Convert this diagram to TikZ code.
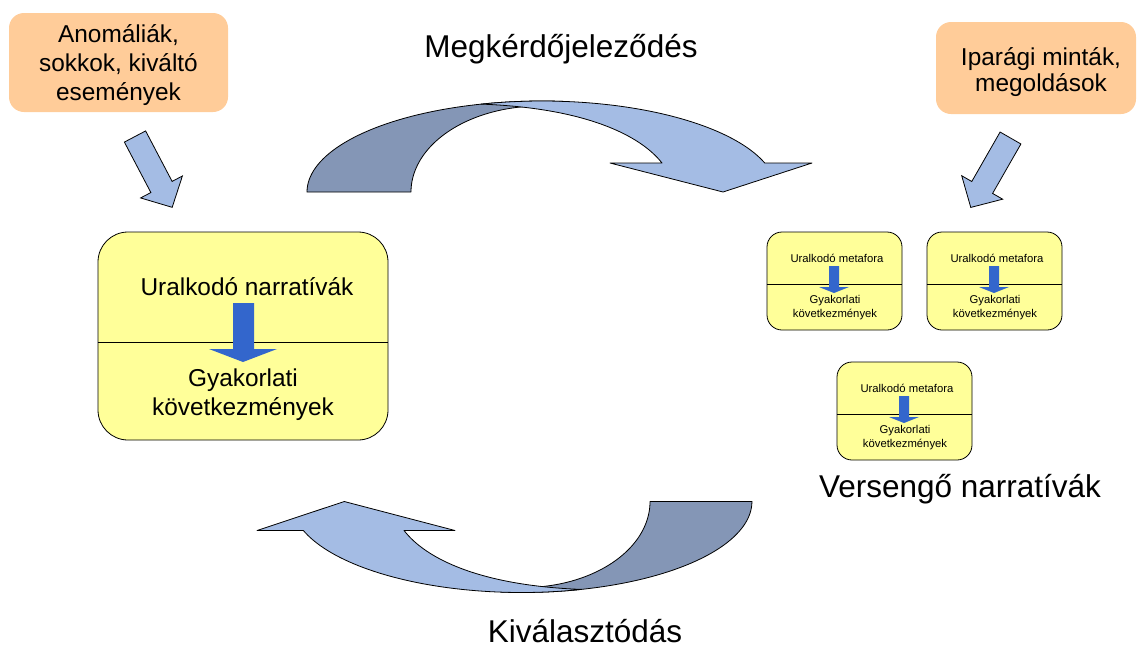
\documentclass[tikz,border=0pt]{standalone}
\usepackage{fontspec}
\setmainfont{Liberation Sans}
\definecolor{peach}{RGB}{255,204,153}
\definecolor{paleyellow}{RGB}{255,255,153}
\definecolor{arrowblue}{RGB}{51,102,204}
\definecolor{lightarrow}{RGB}{164,188,228}
\definecolor{darkarrow}{RGB}{132,150,182}
\newcommand\CurvedPair{%
  \draw[band, fill=darkarrow] (307,192) -- plot[domain=180:85,samples=50] ({542+235*cos(\x)},{192-91*sin(\x)}) -- (540,106) -- plot[domain=90:180,samples=50] ({540+129*cos(\x)},{192-86*sin(\x)}) -- cycle;
  \draw[band, fill=lightarrow] (481,104.1) .. controls (585,108) and (640,135) .. (662,163) -- (610,163) -- (723,192) -- (812,163) -- (765,163) -- plot[domain=18.6:105,samples=50] ({542+235*cos(\x)},{192-91*sin(\x)}) -- cycle;
}
\begin{document}
\begin{tikzpicture}[x=1pt,y=-1pt,
  peachbox/.style={fill=peach, rounded corners=15pt, inner sep=0pt},
  yellowbox/.style={fill=paleyellow, draw=black, line width=0.8pt, inner sep=0pt},
  txt/.style={inner sep=0pt, align=center, font=\fontsize{24.4}{29}\selectfont},
  smalltxt/.style={inner sep=0pt, align=center, font=\fontsize{11.3}{14.5}\selectfont},
  title/.style={inner sep=0pt, anchor=base, font=\fontsize{31.5}{38}\selectfont},
  bluearrow/.style={fill=arrowblue},
  blockarrow/.style={fill=lightarrow, draw=black, line width=0.8pt, line join=miter},
  band/.style={draw=black, line width=0.8pt, line join=round},
  rivalbox/.pic={
    \node[yellowbox, rounded corners=15pt, minimum width=135pt, minimum height=98pt] (box) at (67.5,49) {};
    \draw[line width=0.6pt] (box.west |- 0,52) -- (box.east |- 0,52);
    \node[smalltxt, anchor=base] (head) at (70,30) {Uralkodó metafora};
    \fill[bluearrow] (62,34) -- (72,34) -- (72,55) -- (82,55) -- (67,61) -- (52,55) -- (62,55) -- cycle;
    \node[smalltxt] (cons) at (68,75.6) {Gyakorlati\\következmények};
  }
]
\useasboundingbox (0,0) rectangle (1137,649);

% input boxes
\node[peachbox, minimum width=219pt, minimum height=99pt] (shock) at (118.5,62.5) {};
\node[txt] (shocktxt) at (118.5,64.6) {Anomáliák,\\sokkok, kiváltó\\események};
\node[peachbox, minimum width=200pt, minimum height=92pt] (industry) at (1036,68) {};
\node[txt, font=\fontsize{24.4}{26}\selectfont] (industrytxt) at (1041,71.6) {Iparági minták,\\megoldások};

% small block arrows
\begin{scope}[shift={(135,136.5)}, rotate=-62.3]
  \draw[blockarrow] (0,-12) -- (57,-12) -- (57,-23.6) -- (80,0) -- (57,23.6) -- (57,12) -- (0,12) -- cycle;
\end{scope}
\begin{scope}[shift={(1010.5,138)}, rotate=-119.8]
  \draw[blockarrow] (0,-12) -- (57,-12) -- (57,-23.6) -- (80,0) -- (57,23.6) -- (57,12) -- (0,12) -- cycle;
\end{scope}

% dominant narrative box
\node[yellowbox, rounded corners=30pt, minimum width=290pt, minimum height=208pt] (dom) at (243,336) {};
\draw[line width=0.8pt] (dom.west |- 0,342) -- (dom.east |- 0,342);
\node[txt, anchor=base] (domtop) at (247,295) {Uralkodó narratívák};
\fill[bluearrow] (233,303) -- (254,303) -- (254,349) -- (277,349) -- (243,362) -- (209,349) -- (233,349) -- cycle;
\node[txt] (domcons) at (243,394.8) {Gyakorlati\\következmények};

% competing narratives
\pic (ra) at (767,232) {rivalbox};
\pic (rb) at (927,232) {rivalbox};
\pic (rc) at (837,362) {rivalbox};

% curved arrows
\CurvedPair
\begin{scope}[shift={(504.5,547)}, xscale=0.98, rotate=180, shift={(-559.5,-146.5)}]
  \CurvedPair
\end{scope}

% titles
\node[title] (question) at (561,57) {Megkérdőjeleződés};
\node[title] (select) at (585,642) {Kiválasztódás};
\node[title] (rival) at (960,497) {Versengő narratívák};
\end{tikzpicture}
\end{document}
